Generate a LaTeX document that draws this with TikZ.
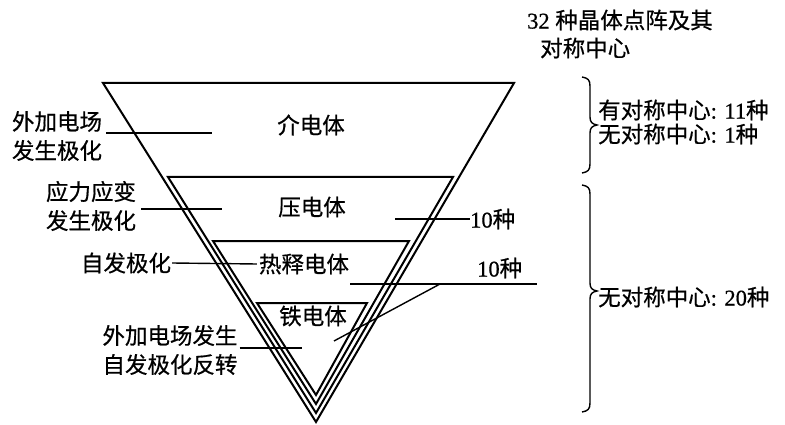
\documentclass[tikz,border=0pt]{standalone}
\usepackage{fontspec}
\setmainfont{Liberation Serif}[FakeBold=0.6]
\newfontfamily\cjk{Noto Sans CJK SC}[FakeBold=0.6]
\begin{document}
\begin{tikzpicture}[x=1pt,y=-1pt,
  tri/.style={line width=2pt, line join=miter},
  lbl/.style={font=\cjk\fontsize{22.5}{29}\selectfont, inner sep=0pt},
  rlbl/.style={font=\fontsize{22.5}{29}\selectfont, inner sep=0pt, anchor=west},
  conn/.style={line width=1.4pt},
  bracepath/.style={line width=1.4pt}]
\useasboundingbox (0,0) rectangle (785,425);
\fill[white] (0,0) rectangle (785,425);

% nested triangles
\coordinate (t1a) at (103,83);  \coordinate (t1b) at (514,83);  \coordinate (t1c) at (316,422);
\coordinate (t2a) at (168,177); \coordinate (t2b) at (453,177); \coordinate (t2c) at (316,413);
\coordinate (t3a) at (213,241); \coordinate (t3b) at (409,241); \coordinate (t3c) at (316,404);
\coordinate (t4a) at (257,303); \coordinate (t4b) at (367,303); \coordinate (t4c) at (316,395);
\draw[tri] (t1a) -- (t1b) -- (t1c) -- cycle;
\draw[tri] (t2a) -- (t2b) -- (t2c) -- cycle;
\draw[tri] (t3a) -- (t3b) -- (t3c) -- cycle;
\draw[tri] (t4a) -- (t4b) -- (t4c) -- cycle;

% names inside
\node[lbl] (jie) at (311,125) {介电体};
\node[lbl] (ya)  at (312,207) {压电体};
\node[lbl] (re)  at (304,264) {热释电体};
\node[lbl] (tie) at (313,316) {铁电体};

% left labels
\node[lbl, align=left] (l1) at (57,136) {外加电场\\发生极化};
\node[lbl, align=left] (l2) at (91,206) {应力应变\\发生极化};
\node[lbl] (l3) at (126,263) {自发极化};
\node[lbl, align=left] (l4) at (170,350) {外加电场发生\\自发极化反转};

\coordinate (c1) at (212,133);
\coordinate (c2) at (222,209);
\coordinate (c4) at (302,348);
\draw[conn] ([xshift=4pt]l1.east |- c1) -- (c1);
\draw[conn] ([xshift=5pt]l2.east |- c2) -- (c2);
\draw[conn] ([xshift=1pt]l3.east) -- ([xshift=-2pt]re.west);
\draw[conn] ([xshift=2pt]l4.east |- c4) -- (c4);

% right labels on the triangle
\node[rlbl] (n1) at (470,219) {10{\cjk 种}};
\coordinate (c5) at (395,219);
\draw[conn] (c5) -- (n1.west);

\node[rlbl] (n2) at (477,268) {10{\cjk 种}};
\coordinate (c6a) at (350,284);
\coordinate (c6b) at (537,284);
\coordinate (c6k) at (440,284);
\coordinate (c6d) at (334,341);
\draw[conn] (c6a) -- (c6b);
\draw[conn] (c6k) -- (c6d);

% top right title
\node[rlbl] (h1) at (527,20) {32 {\cjk 种晶体点阵及其}};
\node[rlbl] (h2) at (540,48) {{\cjk 对称中心}};

% braces
\draw[bracepath] (582,77) .. controls (588,78) and (590,80) .. (590,86)
  -- (590,117) .. controls (590,122) and (592,124) .. (597,125)
  .. controls (592,126) and (590,128) .. (590,133)
  -- (590,164) .. controls (590,170) and (588,172) .. (582,173);
\node[rlbl] (s1) at (598,110) {{\cjk 有对称中心}: 11{\cjk 种}};
\node[rlbl] (s2) at (598,134) {{\cjk 无对称中心}: 1{\cjk 种}};

\draw[bracepath] (582,185) .. controls (588,186) and (590,188) .. (590,194)
  -- (590,283) .. controls (590,288) and (592,290) .. (597,291)
  .. controls (592,292) and (590,294) .. (590,299)
  -- (590,403) .. controls (590,409) and (588,411) .. (582,412);
\node[rlbl] (s3) at (598,297) {{\cjk 无对称中心}: 20{\cjk 种}};
\end{tikzpicture}
\end{document}
